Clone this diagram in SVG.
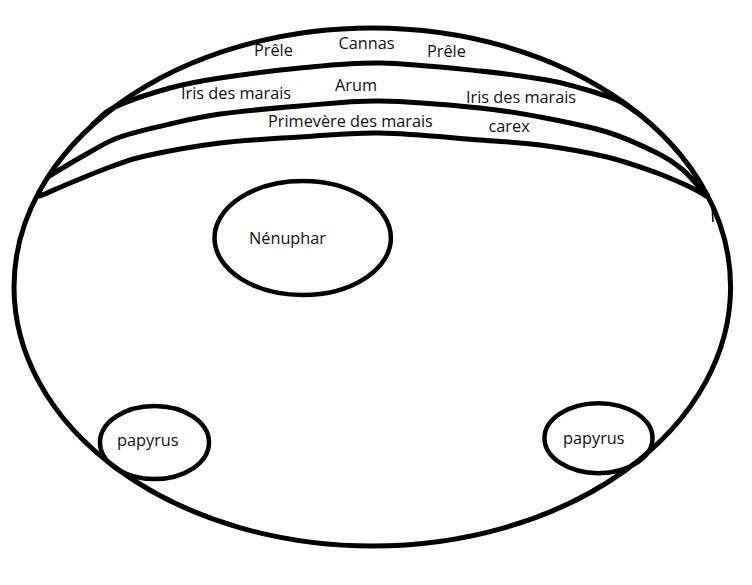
<svg xmlns="http://www.w3.org/2000/svg" width="752" height="585" viewBox="0 0 752 585">
<style>
.ln{fill:none;stroke:#000;stroke-width:5;stroke-linecap:round;stroke-linejoin:round}
.el{fill:none;stroke:#000;stroke-width:4.5}
.t{font-family:"Open Sans","Noto Sans","DejaVu Sans",sans-serif;font-size:16.3px;fill:#111}
</style>
<rect width="752" height="585" fill="#fff"/>
<g id="pond">
<ellipse class="ln" cx="372.3" cy="287" rx="358.3" ry="259"/>
<line x1="712" y1="205" x2="713" y2="222" stroke="#000" stroke-width="1.5"/>
</g>
<g id="bands">
<path class="ln" d="M93,124 C100.3,118.3 102.2,113 115,107 C127.8,101 152.5,92.8 170,88 C187.5,83.2 198.3,81.3 220,78 C241.7,74.7 273.3,70.5 300,68 C326.7,65.5 350,62.5 380,63 C410,63.5 452.2,68.2 480,71 C507.8,73.8 530.3,77.2 547,80 C563.7,82.8 568.3,84.7 580,88 C591.7,91.3 607.7,96 617,100 C626.3,104 629.7,108 636,112"/>
<path class="ln" d="M49,176 C62.7,168 78.2,158.5 90,152 C101.8,145.5 106.7,141.7 120,137 C133.3,132.3 153.3,127.8 170,124 C186.7,120.2 198.3,117 220,114 C241.7,111 273.3,108.2 300,106 C326.7,103.8 350,100.7 380,101 C410,101.3 453.3,105.3 480,108 C506.7,110.7 518.8,113 540,117 C561.2,121 587.5,126 607,132 C626.5,138 644.3,146.7 657,153 C669.7,159.3 674.8,163 683,170 C691.2,177 698.3,186.7 706,195"/>
<path class="ln" d="M40,196 C51.7,191 63.3,185.8 75,181 C86.7,176.2 98.3,171.2 110,167 C121.7,162.8 126.7,160 145,156 C163.3,152 194.2,146.2 220,143 C245.8,139.8 273.3,138.7 300,137 C326.7,135.3 350,132.5 380,133 C410,133.5 453.3,138 480,140 C506.7,142 518.8,142.2 540,145 C561.2,147.8 587.5,152.3 607,157 C626.5,161.7 643.2,168 657,173 C670.8,178 681.8,183.2 690,187 C698.2,190.8 700.7,193 706,196"/>
</g>
<g id="band-labels">
<text class="t" x="254" y="56">Prêle</text>
<text class="t" x="338.5" y="49">Cannas</text>
<text class="t" x="427" y="57">Prêle</text>
<text class="t" x="181" y="98.5">Iris des marais</text>
<text class="t" x="335" y="91">Arum</text>
<text class="t" x="466" y="102.5">Iris des marais</text>
<text class="t" x="268" y="127">Primevère des marais</text>
<text class="t" x="488.5" y="132">carex</text>
</g>
<g id="nenuphar">
<ellipse class="el" cx="302.7" cy="238" rx="88.2" ry="57"/>
<text class="t" x="249" y="243.5">Nénuphar</text>
</g>
<g id="papyrus-left">
<ellipse class="el" cx="154.5" cy="442.5" rx="54.5" ry="36.5"/>
<text class="t" x="117" y="446">papyrus</text>
</g>
<g id="papyrus-right">
<ellipse class="el" cx="598.5" cy="438.2" rx="54" ry="35"/>
<text class="t" x="563" y="444">papyrus</text>
</g>
</svg>
